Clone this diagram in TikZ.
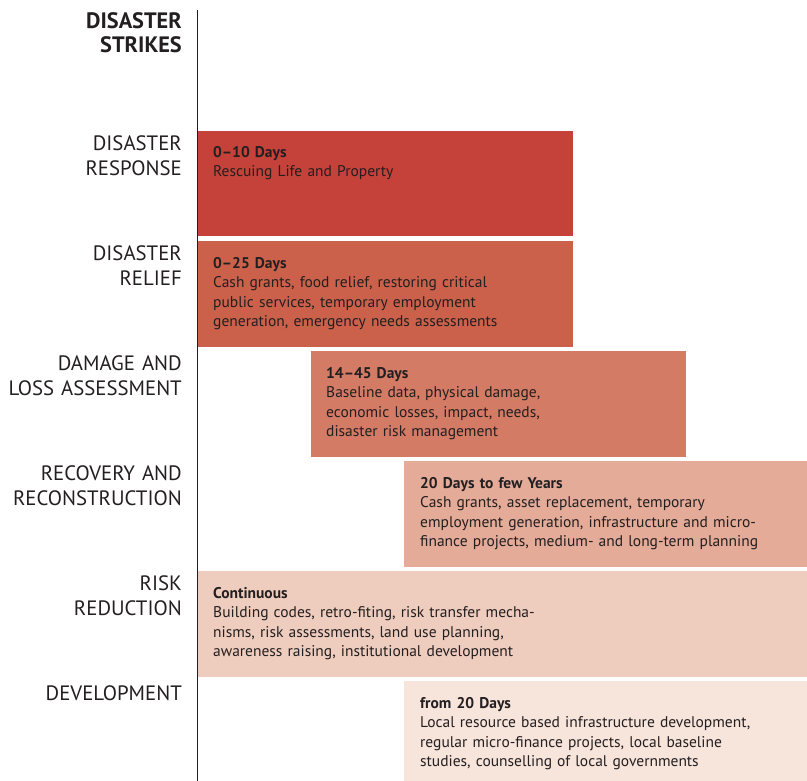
\documentclass[tikz,border=0pt]{standalone}
\usepackage{fontspec}
\setmainfont{PT Sans}
\definecolor{txt}{HTML}{231F20}
\definecolor{cA}{HTML}{C4423A}
\definecolor{cB}{HTML}{CB614B}
\definecolor{cC}{HTML}{D47B66}
\definecolor{cD}{HTML}{E4AB98}
\definecolor{cE}{HTML}{EFCDBE}
\definecolor{cF}{HTML}{F7E4DB}
\tikzset{
  phase/.style={text=txt, anchor=base east, text width=190pt, align=right, inner sep=0pt,
    font=\fontsize{20.8}{24.4}\selectfont},
  boxtext/.style={text=txt, anchor=base west, text width=380pt, align=left, inner sep=0pt,
    font=\fontsize{15.5}{19.3}\selectfont},
  bar/.style={draw=none}
}
\begin{document}
\begin{tikzpicture}[x=1pt,y=-1pt]
\useasboundingbox (0,0) rectangle (807,781);
% bars
\fill[cA] (198,131) rectangle (573,236.5);
\fill[cB] (198,241) rectangle (573,346.5);
\fill[cC] (311,351) rectangle (686,456.5);
\fill[cD] (404,461) rectangle (807,566.5);
\fill[cE] (198,571) rectangle (807,676.5);
\fill[cF] (404,681) rectangle (807,781);
% timeline axis
\coordinate (axtop) at (197.3,10);
\coordinate (axbot) at (197.3,781);
\draw[line width=1.5pt, txt] (axtop) -- (axbot);
% phase labels
\node[phase, font=\fontsize{22.3}{24.4}\selectfont\bfseries] (strikes) at (182,28.3) {DISASTER\\STRIKES};
\node[phase] (response) at (182,150.7) {DISASTER\\RESPONSE};
\node[phase] (relief) at (182,260.7) {DISASTER\\RELIEF};
\node[phase] (damage) at (182,370.7) {DAMAGE AND\\LOSS ASSESSMENT};
\node[phase] (recovery) at (182,480.7) {RECOVERY AND\\RECONSTRUCTION};
\node[phase] (risk) at (182,590.7) {RISK\\REDUCTION};
\node[phase] (devel) at (182,700.7) {DEVELOPMENT};
% box texts
\node[boxtext] (tA) at (213,157.5) {\textbf{0–10 Days}\\Rescuing Life and Property};
\node[boxtext] (tB) at (213,268.5) {\textbf{0–25 Days}\\Cash grants, food relief, restoring critical\\public services, temporary employment\\generation, emergency needs assessments};
\node[boxtext] (tC) at (326,378.5) {\textbf{14–45 Days}\\Baseline data, physical damage,\\economic losses, impact, needs,\\disaster risk management};
\node[boxtext] (tD) at (420,488.5) {\textbf{20 Days to few Years}\\Cash grants, asset replacement, temporary\\employment generation, infrastructure and micro-\\finance projects, medium- and long-term planning};
\node[boxtext] (tE) at (213,598.5) {\textbf{Continuous}\\Building codes, retro-fiting, risk transfer mecha-\\nisms, risk assessments, land use planning,\\awareness raising, institutional development};
\node[boxtext] (tF) at (420,708.5) {\textbf{from 20 Days}\\Local resource based infrastructure development,\\regular micro-finance projects, local baseline\\studies, counselling of local governments};
\end{tikzpicture}
\end{document}
